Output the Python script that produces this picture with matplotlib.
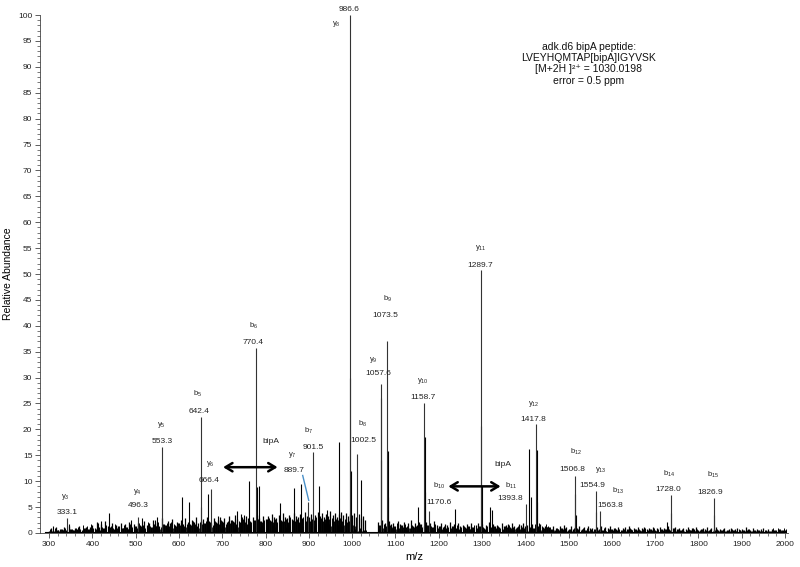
import numpy as np
import matplotlib
matplotlib.use("Agg")
import matplotlib.pyplot as plt

plt.rcParams['font.family'] = ['Liberation Sans', 'DejaVu Sans']
plt.rcParams['mathtext.default'] = 'regular'

# labelled fragment ions: name, annotated m/z text, peak position and height
ion_names = ['y_3', 'y_4', 'y_5', 'b_5', 'y_6', 'b_6', 'y_7', 'b_7', 'y_8', 'b_8', 'y_9',
             'b_9', 'y_{10}', 'b_{10}', 'y_{11}', 'b_{11}', 'y_{12}', 'b_{12}', 'y_{13}',
             'b_{13}', 'b_{14}', 'b_{15}']
ion_texts = ['333.1', '496.3', '553.3', '642.4', '666.4', '770.4', '889.7', '901.5', '986.6',
             '1002.5', '1057.6', '1073.5', '1158.7', '1170.6', '1289.7', '1393.8', '1417.8',
             '1506.8', '1554.9', '1563.8', '1728.0', '1826.9']
ion_mz = [341.0, 504.3, 561.3, 650.8, 674.4, 778.4, 897.7, 909.5, 994.6, 1010.5, 1065.6,
          1081.5, 1166.7, 1178.6, 1297.7, 1401.8, 1425.8, 1514.8, 1562.9, 1571.8, 1736.0, 1834.9]
ion_int = [2.9, 3.0, 16.6, 22.3, 8.5, 35.7, 6.0, 15.6, 100.0, 15.2, 28.7,
           37.0, 25.1, 4.3, 50.8, 5.5, 21.0, 11.0, 8.2, 4.2, 7.4, 6.8]

# other visible peaks (isotopes and unassigned)
other_mz = [310, 347, 414, 420, 439, 490, 514, 545, 549, 607, 623, 651.8, 666, 690, 734, 744,
            750, 762, 779.4, 786, 803, 834, 866, 882, 924, 942, 969, 995.6, 996.6, 1021,
            1066.6, 1067.6, 1082.5, 1083.5, 1152, 1167.7, 1168.7, 1237, 1298.7, 1299.7, 1318,
            1322, 1409, 1413, 1426.8, 1427.8, 1515.8, 1517, 1563.9, 1727, 1737, 1836]
other_int = [1.3, 1.8, 2.0, 2.4, 3.8, 2.5, 2.9, 2.5, 3.1, 7.0, 6.0, 5.0, 7.6, 3.2, 4.3, 3.6,
             3.5, 10.0, 8.9, 9.0, 2.7, 5.8, 8.7, 9.4, 9.1, 4.4, 17.6, 30.0, 12.0, 10.3,
             26.0, 14.0, 15.8, 7.0, 5.1, 18.5, 8.0, 4.7, 20.6, 9.0, 5.1,
             4.5, 16.3, 7.0, 16.0, 6.0, 7.6, 3.5, 4.0, 2.1, 3.8, 3.5]

# baseline grass, one value every 5 m/z
noise_a_start, noise_a = 300, [
    0.4, 0.9, 0.6, 1.2, 0.5, 0.8, 0.7, 1.1, 0.6, 1.4, 0.8, 0.5, 1.0, 0.7, 1.3, 0.6, 0.9, 1.1, 0.7, 1.2,
    1.5, 0.9, 2.1, 1.2, 1.8, 1.0, 2.3, 1.4, 1.1, 1.9, 0.8, 1.6, 1.3, 2.0, 1.0, 1.7, 1.2, 2.2, 1.4, 1.8,
    1.3, 2.0, 1.6, 1.1, 2.4, 1.5, 1.9, 1.2, 2.6, 1.7, 2.1, 1.4, 2.8, 1.8, 1.5, 2.3, 1.9, 2.7, 1.6, 2.2,
    2.0, 2.5, 1.7, 2.9, 2.2, 1.8, 2.6, 2.1, 3.0, 1.9, 2.4, 2.7, 2.0, 3.1, 2.3, 1.9, 2.8, 2.2, 2.5, 3.0,
    2.4, 2.9, 2.1, 3.2, 2.6, 2.3, 3.4, 2.7, 2.2, 3.0, 2.5, 3.3, 2.8, 2.4, 3.1, 2.6, 3.5, 2.9, 2.3, 3.2,
    2.7, 3.3, 2.5, 3.6, 3.0, 2.8, 3.4, 2.6, 3.8, 3.1, 2.9, 3.5, 2.7, 3.9, 3.2, 3.0, 3.6, 2.8, 4.0, 3.3,
    3.1, 3.7, 2.9, 3.5, 4.1, 3.2, 3.8, 3.0, 3.6, 3.3, 4.2, 3.4, 3.9, 3.1, 3.7, 4.0, 3.5, 3.8, 3.2, 3.6,
    3.4, 3.9, 3.1, 3.6, 2.8, 3.2, 2.5]
noise_b_start, noise_b = 1060, [
    2.2, 1.6, 2.5, 1.9, 1.4, 2.3, 1.7, 2.0, 1.3, 2.4, 1.8, 1.5, 2.1, 1.2, 1.9, 2.6, 1.4, 2.0, 1.6, 2.2,
    1.8, 1.3, 2.1, 1.5, 1.9, 1.1, 2.3, 1.6, 1.4, 2.0, 1.2, 1.8, 1.5, 2.2, 1.3, 1.7, 1.0, 1.9, 1.4, 1.6,
    1.2, 1.8, 1.4, 2.0, 1.1, 1.6, 1.9, 1.3, 1.7, 1.0, 1.5, 2.1, 1.2, 1.8, 1.4, 1.6, 1.1, 1.9, 1.3, 1.5,
    1.7, 1.2, 1.9, 1.4, 1.1, 1.8, 1.5, 2.0, 1.3, 1.6, 1.2, 1.8, 1.0, 1.5, 1.3, 1.7, 1.1, 1.4, 1.2]
noise_c_start, noise_c = 1455, [
    1.2, 0.8, 1.4, 1.0, 0.7, 1.3, 0.9, 1.5, 1.1, 0.8, 1.3, 0.7, 1.2, 0.9, 1.4, 0.8, 1.1, 0.6, 1.3, 0.9,
    1.0, 0.7, 1.2, 0.8, 1.4, 0.6, 1.1, 0.9, 1.3, 0.7, 1.0, 0.8, 1.2, 0.6, 0.9, 1.1, 0.7, 1.3, 0.8, 1.0,
    0.7, 1.1, 0.6, 0.9, 1.2, 0.7, 1.0, 0.8, 1.1, 0.6, 0.9, 1.2, 0.7, 1.0, 0.8, 1.3, 0.6, 0.9, 1.1, 0.7,
    0.9, 0.6, 1.0, 0.8, 1.2, 0.5, 0.9, 0.7, 1.1, 0.6, 0.8, 1.0, 0.7, 1.2, 0.6, 0.9, 0.8, 1.1, 0.5, 0.8,
    0.6, 0.9, 0.5, 0.8, 1.0, 0.6, 0.7, 0.9, 0.5, 0.8, 0.6, 1.1, 0.7, 0.5, 0.9, 0.6, 0.8, 0.5, 0.7, 0.9,
    0.5, 0.7, 0.4, 0.8, 0.6, 0.5, 0.7, 0.4, 0.6, 0.5]

info_lines = ['adk.d6 bipA peptide:', 'LVEYHQMTAP[bipA]IGYVSK',
              '[M+2H ]²⁺ = 1030.0198', 'error = 0.5 ppm']

# label positions (data coords): ion name and m/z text
ion_name_pos = [(337, 6.9), (503.5, 8.0), (559, 20.8), (642.3, 26.8), (672.3, 13.4), (771.8, 39.9),
                (862, 15.0), (899, 19.8), (963.7, 98.2), (1023.9, 21.0), (1049.3, 33.4),
                (1081.7, 45.2), (1162.6, 29.3), (1201.9, 9.0), (1296.8, 55.0), (1366.1, 9.0),
                (1419.3, 24.9), (1516.5, 15.6), (1574.3, 12.1), (1613.6, 8.2), (1731.5, 11.5),
                (1833.3, 11.3)]
ion_text_pos = [(341.6, 4.0), (505.8, 5.3), (561.3, 17.7), (646.9, 23.5), (670, 10.2), (771.8, 36.8),
                (866.6, 12.1), (910.5, 16.5), (993.8, 101.1), (1026.2, 17.9), (1060.9, 30.7),
                (1077.1, 41.9), (1162.6, 26.2), (1199.6, 5.9), (1296.8, 51.7), (1366.1, 6.7),
                (1419.3, 22.0), (1509.5, 12.3), (1555.8, 9.2), (1595.1, 5.3), (1729.2, 8.4),
                (1826.3, 7.8)]

fig = plt.figure(figsize=(8, 5.67), dpi=100)
ax = fig.add_axes([0.05, 0.06, 0.9346, 0.9135])

# grass: main sticks plus thinner in-between sticks with shifted heights
for start, hs in [(noise_a_start, noise_a), (noise_b_start, noise_b), (noise_c_start, noise_c)]:
    hs = np.array(hs)
    xs = start + 5 * np.arange(len(hs))
    ax.vlines(xs, 0, hs, color='black', lw=0.9)
    ax.vlines(xs + 2.5, 0, np.roll(hs, -7) * 0.75, color='black', lw=0.7)
    ax.vlines(xs + 1.2, 0, np.roll(hs, -3) * 0.45, color='black', lw=0.6)

ax.vlines(other_mz, 0, other_int, color='black', lw=0.8)
ax.vlines(ion_mz, 0, ion_int, color='#333333', lw=0.8)
# flat baseline
ax.plot([290, 2000], [0.15, 0.15], color='black', lw=0.8)

for name, txt, p1, p2 in zip(ion_names, ion_texts, ion_name_pos, ion_text_pos):
    ax.text(p1[0], p1[1], '$' + name + '$', ha='center', va='center', fontsize=5.5,
            color='#222222', clip_on=False)
    ax.text(p2[0], p2[1], txt, ha='center', va='center', fontsize=6, color='#222222',
            clip_on=False)

ax.text(813.4, 17.7, 'bipA', ha='center', va='center', fontsize=6, color='#222222')
ax.text(1347.6, 13.2, 'bipA', ha='center', va='center', fontsize=6, color='#222222')
ax.annotate('', xy=(834.2, 12.7), xytext=(695.5, 12.7),
            arrowprops=dict(arrowstyle='<->,head_length=0.5,head_width=0.3', lw=1.8, color='black'))
ax.annotate('', xy=(1349.3, 9.0), xytext=(1215.8, 9.0),
            arrowprops=dict(arrowstyle='<->,head_length=0.5,head_width=0.3', lw=1.8, color='black'))
ax.plot([885.8, 899.7], [11.1, 6.3], color='#4a90c8', lw=1.0)

ax.text(1546.5, 90.6, '\n'.join(info_lines), ha='center', va='center', fontsize=7.5,
        linespacing=1.15, color='#111111')

ax.set_xlim(279, 2006)
ax.set_ylim(0, 100)
ax.set_xticks(np.arange(300, 2001, 100))
ax.set_xticks(np.arange(300, 2001, 20), minor=True)
ax.set_yticks(np.arange(0, 101, 5))
ax.set_yticks(np.arange(0, 101, 1), minor=True)
ax.tick_params(axis='both', which='major', labelsize=6, length=3.5, width=0.6, color='#444444',
               labelcolor='#222222', pad=2)
ax.tick_params(axis='both', which='minor', length=2, width=0.5, color='#444444')
for s in ['top', 'right']:
    ax.spines[s].set_visible(False)
for s in ['left', 'bottom']:
    ax.spines[s].set_linewidth(0.6)
    ax.spines[s].set_color('#444444')

ax.set_xlabel('m/z', fontsize=8, labelpad=3)
ax.set_ylabel('Relative Abundance', fontsize=7.5, labelpad=4)

fig.savefig('out.png', dpi=100)
